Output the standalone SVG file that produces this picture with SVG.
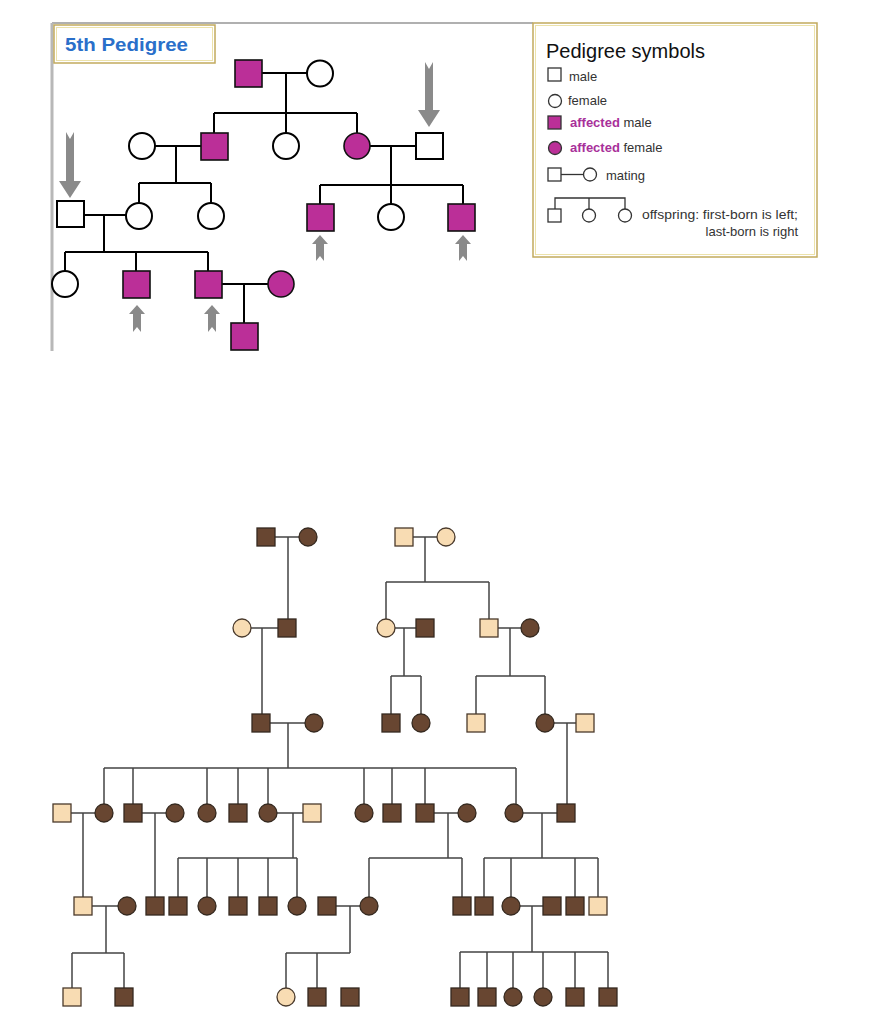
<svg xmlns="http://www.w3.org/2000/svg" width="875" height="1024" viewBox="0 0 875 1024">
<defs>
<style>
text{font-family:"Liberation Sans",Arial,sans-serif}
.tl{stroke:#000;stroke-width:2;fill:none}
.tu{fill:#fff;stroke:#000;stroke-width:2}
.ta{fill:#bb2f98;stroke:#111;stroke-width:1.6}
.arr{fill:#8a8a8a}
.bl{stroke:#444;stroke-width:1.5;fill:none}
.d{fill:#684631;stroke:#35291f;stroke-width:1.3}
.l{fill:#f8dcb3;stroke:#4a3a2c;stroke-width:1.3}
.lg{font-size:13px;fill:#333}
.af{font-weight:bold;fill:#a8309a}
.lgs{fill:#fff;stroke:#333;stroke-width:1.3}
.lga{fill:#bb2f98;stroke:#333;stroke-width:1.3}
</style>
</defs>
<rect width="875" height="1024" fill="#fff"/>

<!-- frame of top panel -->
<g id="frame">
<line x1="52" y1="23" x2="533" y2="23" stroke="#b0b0b0" stroke-width="2"/>
<line x1="52" y1="23" x2="52" y2="351" stroke="#b8b8b8" stroke-width="3"/>
</g>

<g id="title">
<rect x="54" y="25" width="161" height="38" fill="#fff" stroke="#c2aa5e" stroke-width="1.5"/>
<rect x="56.5" y="27.5" width="156" height="33" fill="none" stroke="#ece2aa" stroke-width="1"/>
<text x="65" y="51" font-size="18.5" font-weight="bold" fill="#2a6fca" textLength="123" lengthAdjust="spacingAndGlyphs">5th Pedigree</text>
</g>

<g id="legend">
<rect x="533" y="23" width="284" height="234" fill="#fff" stroke="#c2aa5e" stroke-width="1.5"/>
<rect x="535.5" y="25.5" width="279" height="229" fill="none" stroke="#ece2aa" stroke-width="1"/>
<text x="546" y="58" font-size="20" fill="#111">Pedigree symbols</text>
<rect x="548" y="68" width="13" height="13" class="lgs"/>
<text x="569" y="81" class="lg">male</text>
<circle cx="555" cy="101" r="6.5" class="lgs"/>
<text x="568" y="105" class="lg">female</text>
<rect x="548" y="116" width="13" height="13" class="lga"/>
<text x="570" y="127" class="lg"><tspan class="af">affected</tspan> male</text>
<circle cx="555" cy="148" r="6.5" class="lga"/>
<text x="570" y="152" class="lg"><tspan class="af">affected</tspan> female</text>
<rect x="548" y="168" width="13" height="13" class="lgs"/>
<line x1="561" y1="174.5" x2="583" y2="174.5" stroke="#333" stroke-width="1.3"/>
<circle cx="590" cy="174.5" r="6.5" class="lgs"/>
<text x="606" y="180" class="lg">mating</text>
<path d="M555,209 V198 H625 V209 M589,198 V209" fill="none" stroke="#333" stroke-width="1.3"/>
<rect x="548" y="209" width="13" height="13" class="lgs"/>
<circle cx="589" cy="215.5" r="6.5" class="lgs"/>
<circle cx="625" cy="215.5" r="6.5" class="lgs"/>
<text x="642" y="219" class="lg" textLength="156" lengthAdjust="spacingAndGlyphs">offspring: first-born is left;</text>
<text x="798" y="236" class="lg" text-anchor="end">last-born is right</text>
</g>

<!-- top pedigree connectors -->
<g id="top-connectors" class="tl">
<path d="M262,73 H307 M286,73 V113 M214,113 H357 M214,113 V133 M286,113 V133 M357,113 V133"/>
<path d="M155,146 H201 M176,146 V183 M139,183 H211 M139,183 V203 M211,183 V203"/>
<path d="M370,146 H416 M391,146 V185 M320,185 H463 M320,185 V204 M391,185 V204 M463,185 V204"/>
<path d="M84,215 H126 M104,215 V252 M65,252 H208 M65,252 V271 M136,252 V271 M208,252 V271"/>
<path d="M222,284 H268 M244,284 V323"/>
</g>

<!-- top pedigree nodes -->
<g id="t1"><rect x="235" y="60" width="27" height="27" class="ta"/></g>
<g id="t2"><circle cx="320" cy="73.5" r="13" class="tu"/></g>
<g id="t3"><circle cx="142" cy="146" r="13" class="tu"/></g>
<g id="t4"><rect x="201" y="133" width="27" height="27" class="ta"/></g>
<g id="t5"><circle cx="286" cy="146" r="13" class="tu"/></g>
<g id="t6"><circle cx="357" cy="146" r="13" class="ta"/></g>
<g id="t7"><rect x="416" y="133" width="27" height="26" class="tu"/></g>
<g id="t8"><rect x="57" y="201" width="27" height="26" class="tu"/></g>
<g id="t9"><circle cx="139" cy="216" r="13" class="tu"/></g>
<g id="t10"><circle cx="211" cy="216" r="13" class="tu"/></g>
<g id="t11"><rect x="307" y="204" width="27" height="27" class="ta"/></g>
<g id="t12"><circle cx="391" cy="217" r="13" class="tu"/></g>
<g id="t13"><rect x="448" y="204" width="27" height="27" class="ta"/></g>
<g id="t14"><circle cx="65" cy="284" r="13" class="tu"/></g>
<g id="t15"><rect x="123" y="271" width="27" height="27" class="ta"/></g>
<g id="t16"><rect x="195" y="271" width="27" height="27" class="ta"/></g>
<g id="t17"><circle cx="281" cy="284" r="13" class="ta"/></g>
<g id="t18"><rect x="231" y="323" width="27" height="27" class="ta"/></g>

<!-- arrows -->
<g id="arrows" class="arr">
<path d="M66,132 L70,139 L74,132 V181 H81 L70,198 L59,181 H66 Z"/>
<path d="M425,62 L429,69 L433,62 V110 H440 L429,127 L418,110 H425 Z"/>
<path d="M320,235 L328,244 H324 V261 L320,256 L316,261 V244 H312 Z"/>
<path d="M463,235 L471,244 H467 V261 L463,256 L459,261 V244 H455 Z"/>
<path d="M137,305 L145,314 H141 V332 L137,327 L133,332 V314 H129 Z"/>
<path d="M212,305 L220,314 H216 V332 L212,327 L208,332 V314 H204 Z"/>
</g>

<!-- bottom pedigree connectors -->
<g id="connectors" class="bl">
<path d="M275,537 H299 M288,537 V619"/>
<path d="M413,537 H437 M425,537 V582 M386,582 H489 M386,582 V619 M489,582 V619"/>
<path d="M251,628 H278 M262,628 V714"/>
<path d="M395,628 H416 M404,628 V676 M391,676 H421 M391,676 V714 M421,676 V714"/>
<path d="M498,628 H521 M510,628 V676 M476,676 H545 M476,676 V714 M545,676 V714"/>
<path d="M270,723 H305 M288,723 V768 M104,768 H516 M104,768 V804 M133,768 V804 M207,768 V804 M238,768 V804 M268,768 V804 M364,768 V804 M392,768 V804 M425,768 V804 M516,768 V804"/>
<path d="M554,723 H576 M567,723 V804"/>
<path d="M71,813 H95 M83,813 V897"/>
<path d="M142,813 H166 M155,813 V897"/>
<path d="M277,813 H303 M293,813 V858 M178,858 H297 M178,858 V897 M207,858 V897 M238,858 V897 M268,858 V897 M297,858 V897"/>
<path d="M434,813 H458 M448,813 V858 M369,858 H462 M369,858 V897 M462,858 V897"/>
<path d="M523,813 H557 M542,813 V858 M484,858 H598 M484,858 V897 M511,858 V897 M575,858 V897 M598,858 V897"/>
<path d="M92,906 H118 M106,906 V953 M72,953 H124 M72,953 V988 M124,953 V988"/>
<path d="M336,906 H360 M350,906 V953 M286,953 H350 M286,953 V988 M317,953 V988"/>
<path d="M520,906 H543 M532,906 V952 M460,952 H608 M460,952 V988 M487,952 V988 M513,952 V988 M543,952 V988 M575,952 V988 M608,952 V988"/>
</g>

<!-- bottom pedigree nodes -->
<g id="b1"><rect x="257" y="528" width="18" height="18" class="d"/></g>
<g id="b2"><circle cx="308" cy="537" r="9" class="d"/></g>
<g id="b3"><rect x="395" y="528" width="18" height="18" class="l"/></g>
<g id="b4"><circle cx="446" cy="537" r="9" class="l"/></g>
<g id="b5"><circle cx="242" cy="628" r="9" class="l"/></g>
<g id="b6"><rect x="278" y="619" width="18" height="18" class="d"/></g>
<g id="b7"><circle cx="386" cy="628" r="9" class="l"/></g>
<g id="b8"><rect x="416" y="619" width="18" height="18" class="d"/></g>
<g id="b9"><rect x="480" y="619" width="18" height="18" class="l"/></g>
<g id="b10"><circle cx="530" cy="628" r="9" class="d"/></g>
<g id="b11"><rect x="252" y="714" width="18" height="18" class="d"/></g>
<g id="b12"><circle cx="314" cy="723" r="9" class="d"/></g>
<g id="b13"><rect x="382" y="714" width="18" height="18" class="d"/></g>
<g id="b14"><circle cx="421" cy="723" r="9" class="d"/></g>
<g id="b15"><rect x="467" y="714" width="18" height="18" class="l"/></g>
<g id="b16"><circle cx="545" cy="723" r="9" class="d"/></g>
<g id="b17"><rect x="576" y="714" width="18" height="18" class="l"/></g>
<g id="b18"><rect x="53" y="804" width="18" height="18" class="l"/></g>
<g id="b19"><circle cx="104" cy="813" r="9" class="d"/></g>
<g id="b20"><rect x="124" y="804" width="18" height="18" class="d"/></g>
<g id="b21"><circle cx="175" cy="813" r="9" class="d"/></g>
<g id="b22"><circle cx="207" cy="813" r="9" class="d"/></g>
<g id="b23"><rect x="229" y="804" width="18" height="18" class="d"/></g>
<g id="b24"><circle cx="268" cy="813" r="9" class="d"/></g>
<g id="b25"><rect x="303" y="804" width="18" height="18" class="l"/></g>
<g id="b26"><circle cx="364" cy="813" r="9" class="d"/></g>
<g id="b27"><rect x="383" y="804" width="18" height="18" class="d"/></g>
<g id="b28"><rect x="416" y="804" width="18" height="18" class="d"/></g>
<g id="b29"><circle cx="467" cy="813" r="9" class="d"/></g>
<g id="b30"><circle cx="514" cy="813" r="9" class="d"/></g>
<g id="b31"><rect x="557" y="804" width="18" height="18" class="d"/></g>
<g id="b32"><rect x="74" y="897" width="18" height="18" class="l"/></g>
<g id="b33"><circle cx="127" cy="906" r="9" class="d"/></g>
<g id="b34"><rect x="146" y="897" width="18" height="18" class="d"/></g>
<g id="b35"><rect x="169" y="897" width="18" height="18" class="d"/></g>
<g id="b36"><circle cx="207" cy="906" r="9" class="d"/></g>
<g id="b37"><rect x="229" y="897" width="18" height="18" class="d"/></g>
<g id="b38"><rect x="259" y="897" width="18" height="18" class="d"/></g>
<g id="b39"><circle cx="297" cy="906" r="9" class="d"/></g>
<g id="b40"><rect x="318" y="897" width="18" height="18" class="d"/></g>
<g id="b41"><circle cx="369" cy="906" r="9" class="d"/></g>
<g id="b42"><rect x="453" y="897" width="18" height="18" class="d"/></g>
<g id="b43"><rect x="475" y="897" width="18" height="18" class="d"/></g>
<g id="b44"><circle cx="511" cy="906" r="9" class="d"/></g>
<g id="b45"><rect x="543" y="897" width="18" height="18" class="d"/></g>
<g id="b46"><rect x="566" y="897" width="18" height="18" class="d"/></g>
<g id="b47"><rect x="589" y="897" width="18" height="18" class="l"/></g>
<g id="b48"><rect x="63" y="988" width="18" height="18" class="l"/></g>
<g id="b49"><rect x="115" y="988" width="18" height="18" class="d"/></g>
<g id="b50"><circle cx="286" cy="997" r="9" class="l"/></g>
<g id="b51"><rect x="308" y="988" width="18" height="18" class="d"/></g>
<g id="b52"><rect x="341" y="988" width="18" height="18" class="d"/></g>
<g id="b53"><rect x="451" y="988" width="18" height="18" class="d"/></g>
<g id="b54"><rect x="478" y="988" width="18" height="18" class="d"/></g>
<g id="b55"><circle cx="513" cy="997" r="9" class="d"/></g>
<g id="b56"><circle cx="543" cy="997" r="9" class="d"/></g>
<g id="b57"><rect x="566" y="988" width="18" height="18" class="d"/></g>
<g id="b58"><rect x="599" y="988" width="18" height="18" class="d"/></g>
</svg>
